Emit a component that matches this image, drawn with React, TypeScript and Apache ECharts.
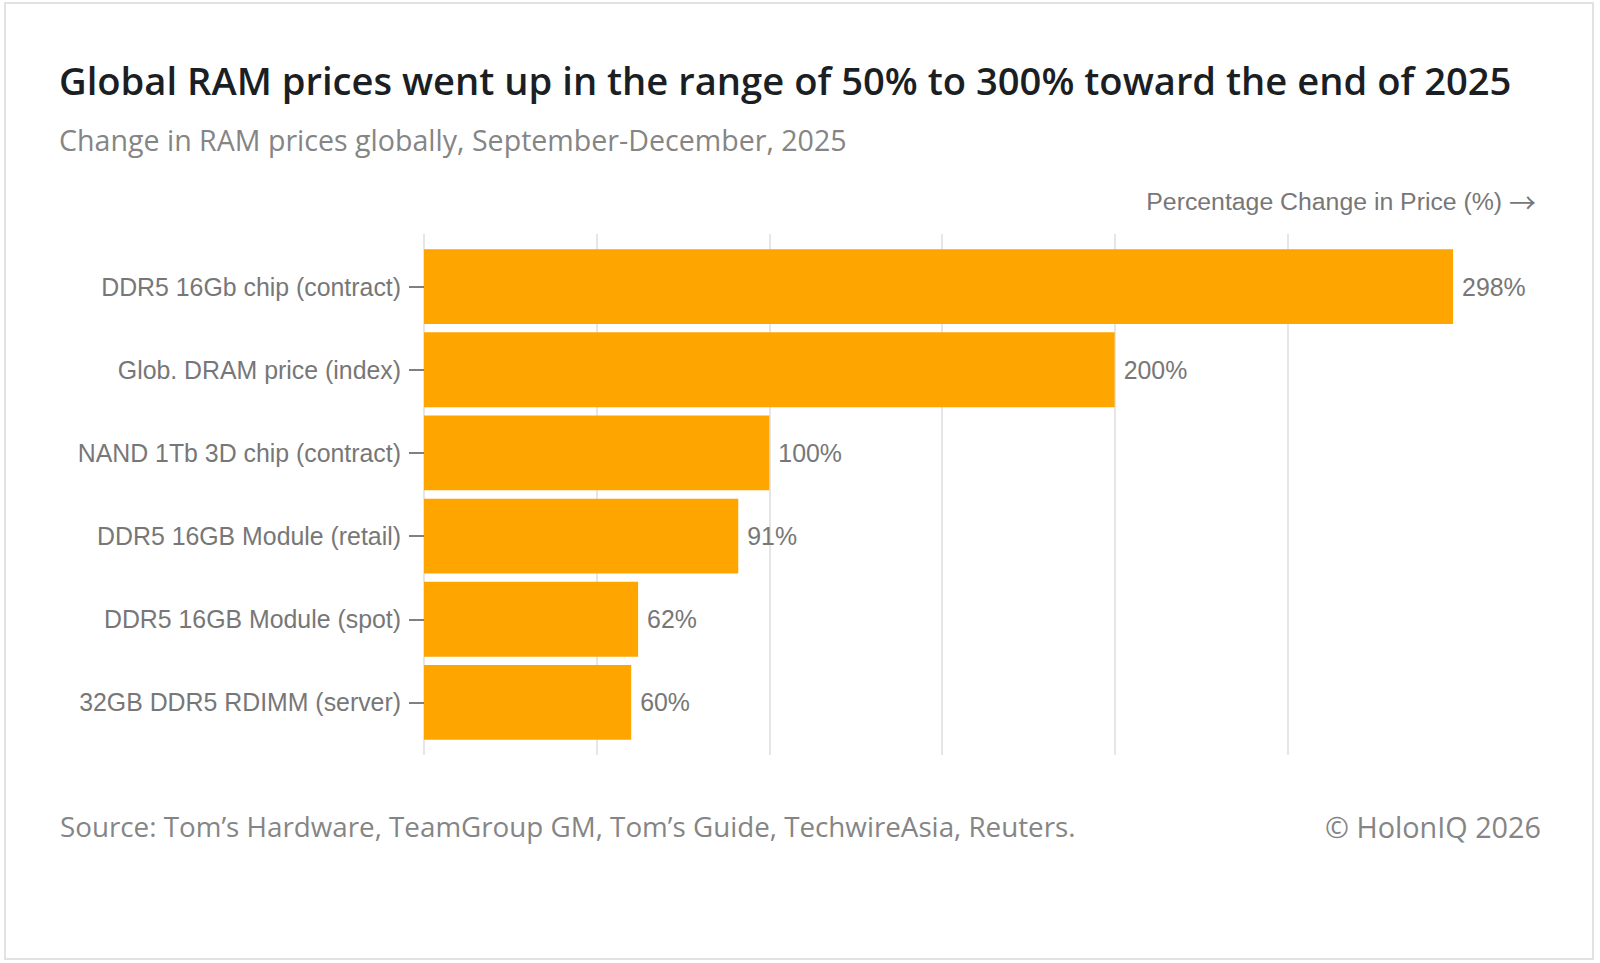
import React, { useEffect, useRef } from "react";
import * as echarts from "echarts";

const titleText = "Global RAM prices went up in the range of 50% to 300% toward the end of 2025";
const subtitleText = "Change in RAM prices globally, September-December, 2025";
const axisNameText = "Percentage Change in Price (%)";
const axisArrow = "→";
const sourceText = "Source: Tom’s Hardware, TeamGroup GM, Tom’s Guide, TechwireAsia, Reuters.";
const creditText = "© HolonIQ 2026";

const categories = [
  "DDR5 16Gb chip (contract)",
  "Glob. DRAM price (index)",
  "NAND 1Tb 3D chip (contract)",
  "DDR5 16GB Module (retail)",
  "DDR5 16GB Module (spot)",
  "32GB DDR5 RDIMM (server)",
];
const values = [298, 200, 100, 91, 62, 60];
const axisMin = 0;
const axisMax = 300;
const axisStep = 50;

const SANS = "'Open Sans', 'Noto Sans', sans-serif";
const ARIAL = "'Liberation Sans', Arial, sans-serif";
const ARROWFONT = "'Noto Sans CJK SC', 'DejaVu Sans', sans-serif";

function fitSize(text: string, family: string, weight: string, target: number, fallback: number) {
  try {
    const ctx = document.createElement("canvas").getContext("2d");
    if (!ctx) return fallback;
    ctx.font = `${weight} 100px ${family}`;
    const w = ctx.measureText(text).width;
    if (!w) return fallback;
    return (100 * target) / w;
  } catch (e) {
    return fallback;
  }
}

export default function App() {
  const ref = useRef<HTMLDivElement>(null);
  useEffect(() => {
    document.body.style.margin = "0";
    if (!ref.current) return;
    const chart = echarts.init(ref.current, null, { renderer: "svg", width: 1600, height: 963 });

    const titleSize = fitSize(titleText, SANS, "600", 1453, 34);
    const subSize = fitSize(subtitleText, SANS, "400", 788, 26);
    const srcSize = fitSize(sourceText, SANS, "400", 1016, 26);
    const credSize = fitSize(creditText, SANS, "400", 216, 26);
    const nameSize = fitSize(axisNameText, ARIAL, "400", 356, 22);
    const labelSize = fitSize(categories[0], ARIAL, "400", 300, 22);

    const gray = "#777777";

    chart.setOption({
      animation: false,
      backgroundColor: "#ffffff",
      graphic: [
        {
          type: "rect",
          z: -10,
          silent: true,
          shape: { x: 5, y: 3, width: 1588, height: 956 },
          style: { fill: "#ffffff", stroke: "#e2e2e2", lineWidth: 2 },
        },
        {
          type: "text",
          x: 59,
          y: 80,
          style: {
            text: titleText,
            fontFamily: SANS,
            fontWeight: 600,
            fontSize: titleSize,
            fill: "#1b1f24",
            align: "left",
            verticalAlign: "middle",
          },
        },
        {
          type: "text",
          x: 59,
          y: 139,
          style: {
            text: subtitleText,
            fontFamily: SANS,
            fontSize: subSize,
            fill: "#858585",
            align: "left",
            verticalAlign: "middle",
          },
        },
        {
          type: "text",
          x: 1536,
          y: 201,
          style: {
            text: `{a|${axisNameText} }{b|${axisArrow}}`,
            align: "right",
            verticalAlign: "middle",
            fill: gray,
            rich: {
              a: {
                fontFamily: ARIAL,
                fontSize: nameSize,
                fill: gray,
                verticalAlign: "middle",
                lineHeight: 30,
              },
              b: {
                fontFamily: ARROWFONT,
                fontSize: 27,
                fill: gray,
                verticalAlign: "middle",
                lineHeight: 30,
              },
            },
          },
        },
        {
          type: "text",
          x: 60,
          y: 826,
          style: {
            text: sourceText,
            fontFamily: SANS,
            fontSize: srcSize,
            fill: "#858585",
            align: "left",
            verticalAlign: "middle",
          },
        },
        {
          type: "text",
          x: 1541,
          y: 826,
          style: {
            text: creditText,
            fontFamily: SANS,
            fontSize: credSize,
            fill: "#858585",
            align: "right",
            verticalAlign: "middle",
          },
        },
      ],
      grid: [
        { left: 424, top: 234, width: 1036, height: 521, containLabel: false },
        { left: 424, top: 245, width: 1036, height: 499, containLabel: false },
      ],
      xAxis: [
        {
          type: "value",
          gridIndex: 0,
          min: axisMin,
          max: axisMax,
          interval: axisStep,
          axisLine: { show: false },
          axisTick: { show: false },
          axisLabel: { show: false },
          splitLine: {
            show: true,
            showMinLine: true,
            showMaxLine: false,
            lineStyle: { color: "#e6e6e6", width: 2 },
          },
        },
        {
          type: "value",
          gridIndex: 1,
          min: axisMin,
          max: axisMax,
          interval: axisStep,
          show: false,
          splitLine: { show: false },
        },
      ],
      yAxis: [
        { type: "value", gridIndex: 0, show: false, splitLine: { show: false } },
        {
          type: "category",
          gridIndex: 1,
          data: categories,
          inverse: true,
          axisLine: { show: false },
          axisTick: {
            show: true,
            alignWithLabel: true,
            length: 15,
            lineStyle: { color: "#808080", width: 2 },
          },
          axisLabel: {
            margin: 23,
            color: gray,
            fontFamily: ARIAL,
            fontSize: labelSize,
          },
          splitLine: { show: false },
        },
      ],
      series: [
        {
          type: "bar",
          xAxisIndex: 1,
          yAxisIndex: 1,
          data: values,
          barCategoryGap: "10%",
          itemStyle: { color: "#FFA500" },
          label: {
            show: true,
            position: "right",
            distance: 9,
            formatter: "{c}%",
            color: gray,
            fontFamily: ARIAL,
            fontSize: labelSize,
          },
          silent: true,
        },
      ],
    });
    return () => chart.dispose();
  }, []);
  return (
    <div
      ref={ref}
      style={{ position: "fixed", left: 0, top: 0, width: 1600, height: 963, background: "#ffffff" }}
    />
  );
}
